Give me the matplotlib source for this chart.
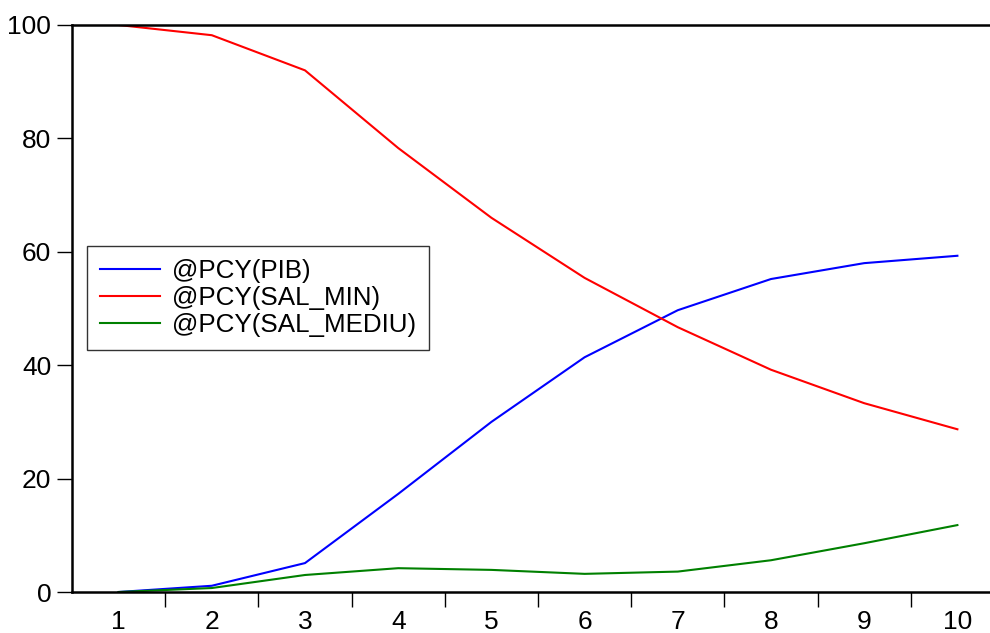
import matplotlib
matplotlib.use("Agg")
import matplotlib.pyplot as plt

periods = [1, 2, 3, 4, 5, 6, 7, 8, 9, 10]
pib = [0.0, 1.1, 5.1, 17.3, 30.0, 41.4, 49.7, 55.2, 58.0, 59.3]
sal_min = [100.0, 98.2, 92.0, 78.3, 66.0, 55.4, 46.7, 39.2, 33.3, 28.7]
sal_mediu = [0.0, 0.7, 3.0, 4.2, 3.9, 3.2, 3.6, 5.6, 8.6, 11.8]
labels = ["@PCY(PIB)", "@PCY(SAL_MIN)", "@PCY(SAL_MEDIU)"]
yticks = [0, 20, 40, 60, 80, 100]

plt.rcParams['font.family'] = ['Liberation Sans', 'DejaVu Sans']

fig = plt.figure(figsize=(9.9, 6.33), dpi=100)
ax = fig.add_axes([72/990, 41/633, (1004-72)/990, (592-25)/633])

ax.plot(periods, pib, color='#0000ff', lw=1.5, label=labels[0])
ax.plot(periods, sal_min, color='#ff0000', lw=1.5, label=labels[1])
ax.plot(periods, sal_mediu, color='#008000', lw=1.5, label=labels[2])

ax.set_xlim(0.5, 10.5)
ax.set_ylim(0, 100)
ax.set_yticks(yticks)
ax.set_yticklabels([str(v) for v in yticks], fontsize=19)

# major ticks at boundaries (no labels), minor at centres (labels, no marks)
ax.set_xticks([p + 0.5 for p in periods[:-1]])
ax.set_xticklabels([])
ax.set_xticks(periods, minor=True)
ax.set_xticklabels([str(p) for p in periods], minor=True, fontsize=19)
ax.tick_params(axis='x', which='major', direction='out', length=11, width=1.0, color='black')
ax.tick_params(axis='x', which='minor', length=0, pad=13)
ax.tick_params(axis='y', direction='out', length=11, width=1.0, pad=4)

for s in ['top', 'left', 'bottom', 'right']:
    ax.spines[s].set_linewidth(1.8)
    ax.spines[s].set_color('black')

leg = ax.legend(loc='upper left', bbox_to_anchor=(87/990, 1-246/633),
                bbox_transform=fig.transFigure, borderaxespad=0,
                fontsize=18.7, handlelength=2.3, handletextpad=0.47,
                labelspacing=0.12, borderpad=0.5, fancybox=False,
                framealpha=1, edgecolor='#333333')
leg.get_frame().set_linewidth(1.0)

fig.savefig('out.png', dpi=100)
